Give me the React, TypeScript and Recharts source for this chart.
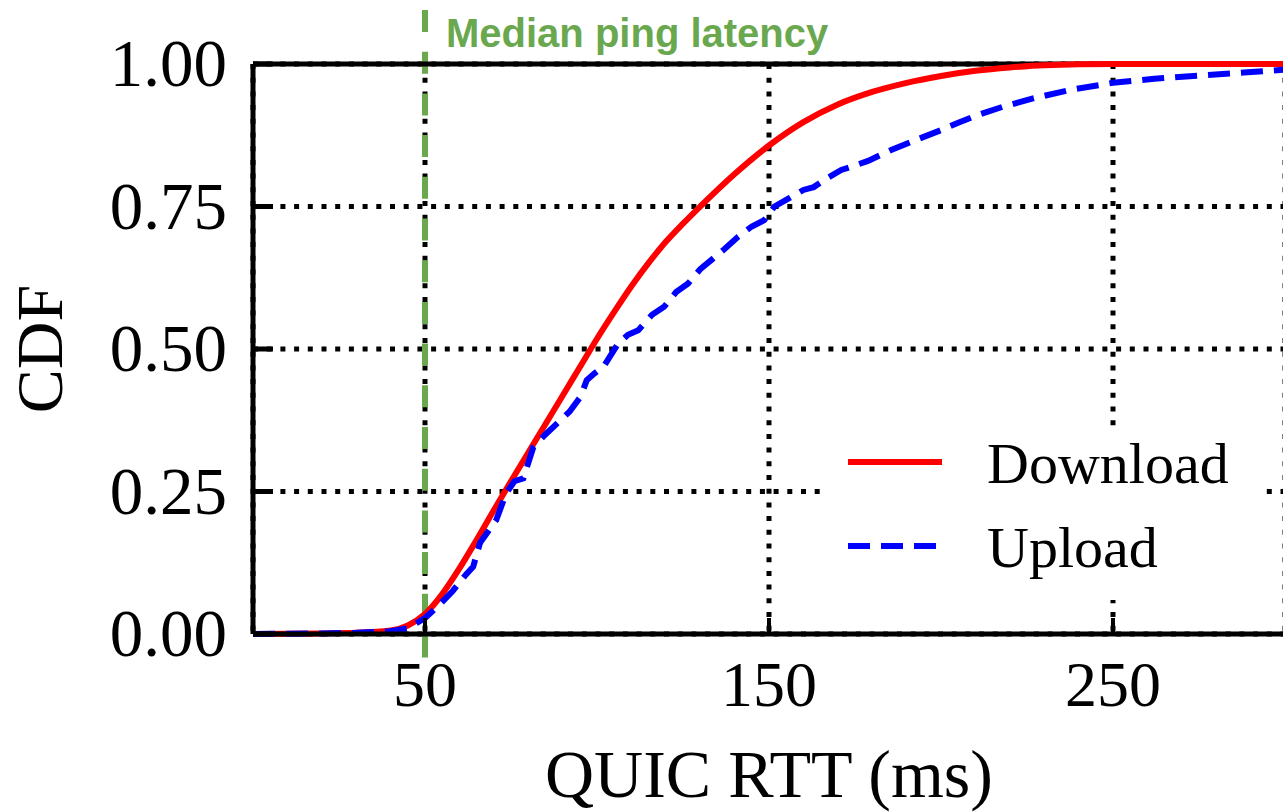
import React from "react";
import {
  LineChart,
  Line,
  XAxis,
  YAxis,
  CartesianGrid,
  ReferenceLine,
  Legend,
} from "recharts";

// CDF of QUIC RTT samples (ms) for download and upload transfers
const downloadRtt = [0, 20, 30, 40, 45, 50, 55, 60, 65, 70, 75, 80, 85, 90, 95, 100, 105, 110, 115, 120, 125, 130, 140, 150, 160, 170, 180, 190, 200, 210, 220, 230, 250, 300];
const downloadCdf = [0, 0.001, 0.002, 0.006, 0.015, 0.035, 0.07, 0.115, 0.165, 0.217, 0.268, 0.318, 0.368, 0.418, 0.468, 0.518, 0.565, 0.61, 0.651, 0.688, 0.72, 0.75, 0.807, 0.857, 0.898, 0.929, 0.951, 0.967, 0.979, 0.988, 0.994, 0.998, 1, 1];

const uploadRtt = [0, 20, 30, 40, 45, 50, 54, 58, 62, 64, 66, 70.7, 73.6, 76, 78.6, 81.5, 85, 88.5, 92, 95.2, 97, 99.2, 102, 106.2, 109, 112, 116, 119.5, 123, 126.5, 130, 133.2, 137, 141, 145, 148.6, 151.6, 156, 160, 163, 167, 171, 175, 178.8, 185.5, 192, 200, 205, 210.5, 218, 227, 238, 250, 262, 275.6, 288, 300];
const uploadCdf = [0, 0.001, 0.002, 0.005, 0.01, 0.028, 0.05, 0.075, 0.105, 0.118, 0.16, 0.2, 0.247, 0.268, 0.273, 0.328, 0.35, 0.37, 0.39, 0.416, 0.445, 0.457, 0.47, 0.51, 0.525, 0.533, 0.56, 0.574, 0.6, 0.615, 0.64, 0.656, 0.675, 0.697, 0.715, 0.726, 0.75, 0.765, 0.779, 0.784, 0.8, 0.814, 0.822, 0.83, 0.849, 0.865, 0.884, 0.897, 0.91, 0.925, 0.94, 0.955, 0.967, 0.974, 0.98, 0.985, 0.99];

const xTicks = [50, 150, 250];
const yTicks = [0, 0.25, 0.5, 0.75, 1];
const medianPing = 50;

const GREEN = "#6aa84f";
const SERIF = "'Liberation Serif', 'Times New Roman', serif";
const Y_GAP = 26;

const downloadData = downloadRtt.map((rtt, i) => ({ rtt, cdf: downloadCdf[i] }));
const uploadData = uploadRtt.map((rtt, i) => ({ rtt, cdf: uploadCdf[i] }));

// inward tick + label for the CDF axis
const YTick = (props: any) => {
  const { x, y, payload } = props;
  const ax = x + Y_GAP;
  return (
    <g>
      <line x1={ax} x2={ax + 20} y1={y} y2={y} stroke="#000" strokeWidth={5} />
      <text x={x} y={y} dy="0.33em" textAnchor="end" fontFamily={SERIF} fontSize={67} fill="#000">
        {Number(payload.value).toFixed(2)}
      </text>
    </g>
  );
};

const XTick = (props: any) => {
  const { x, y, payload } = props;
  return (
    <g>
      <line x1={x} x2={x} y1={y} y2={y - 16} stroke="#000" strokeWidth={4} />
      <text x={x} y={y + 72} textAnchor="middle" fontFamily={SERIF} fontSize={64} fill="#000">
        {payload.value}
      </text>
    </g>
  );
};

const MedianMarker = (p: any) => {
  const x = p.x1;
  return (
    <g>
      <line x1={x} x2={x} y1={10} y2={662} stroke={GREEN} strokeWidth={6} strokeDasharray="22 19.7" />
      <text x={x + 21} y={47} fill={GREEN} fontFamily="'Liberation Sans', Arial, sans-serif" fontWeight="bold" fontSize={40}>
        Median ping latency
      </text>
    </g>
  );
};

const LegendBox = ({ payload }: any) => (
  <svg width={442} height={170} style={{ display: "block" }}>
    {(payload || []).map((e: any, i: number) => (
      <g key={e.value} transform={`translate(0, ${i * 84})`}>
        <line
          x1={28}
          x2={122}
          y1={32}
          y2={32}
          stroke={e.color}
          strokeWidth={6}
          strokeDasharray={e.payload?.strokeDasharray}
        />
        <text x={167} y={53} fontFamily={SERIF} fontSize={58} fill="#000">
          {e.value}
        </text>
      </g>
    ))}
  </svg>
);

export default function App() {
  return (
    <div style={{ position: "absolute", left: 0, top: 0, width: 1283, height: 812, overflow: "hidden", background: "#fff" }}>
      <LineChart width={1285} height={812} margin={{ top: 64, right: 0, bottom: 0, left: 0 }}>
        <CartesianGrid stroke="#000" strokeWidth={5} strokeDasharray="5 8.7" />
        <XAxis
          type="number"
          dataKey="rtt"
          domain={[0, 300]}
          ticks={xTicks}
          height={178}
          tickSize={0}
          tickMargin={0}
          tick={<XTick />}
          axisLine={{ stroke: "#000", strokeWidth: 5 }}
          tickLine={false}
          label={{
            content: (lp: any) => {
              const vb = lp.viewBox;
              return (
                <text x={vb.x + vb.width / 2} y={vb.y + 163} textAnchor="middle" fontFamily={SERIF} fontSize={68} fill="#000">
                  QUIC RTT (ms)
                </text>
              );
            },
          }}
        />
        <YAxis
          type="number"
          domain={[0, 1]}
          ticks={yTicks}
          width={253}
          tickSize={0}
          tickMargin={Y_GAP}
          tick={<YTick />}
          axisLine={{ stroke: "#000", strokeWidth: 5 }}
          tickLine={false}
          label={{
            content: (lp: any) => {
              const vb = lp.viewBox;
              const cy = vb.y + vb.height / 2;
              return (
                <text x={62} y={cy} textAnchor="middle" transform={`rotate(-90, 62, ${cy})`} fontFamily={SERIF} fontSize={66} fill="#000">
                  CDF
                </text>
              );
            },
          }}
        />
        <ReferenceLine x={medianPing} shape={<MedianMarker />} />
        <ReferenceLine y={1} stroke="#000" strokeWidth={5} />
        <Line
          data={downloadData}
          dataKey="cdf"
          name="Download"
          type="monotone"
          stroke="#ff0000"
          strokeWidth={6}
          dot={false}
          isAnimationActive={false}
        />
        <Line
          data={uploadData}
          dataKey="cdf"
          name="Upload"
          type="linear"
          stroke="#0000ff"
          strokeWidth={6}
          strokeDasharray="22 11"
          dot={false}
          isAnimationActive={false}
        />
        <Legend
          layout="vertical"
          align="center"
          verticalAlign="middle"
          content={<LegendBox />}
          wrapperStyle={{ left: 820, top: 430, width: 442, height: 170, background: "#fff" }}
        />
      </LineChart>
    </div>
  );
}
